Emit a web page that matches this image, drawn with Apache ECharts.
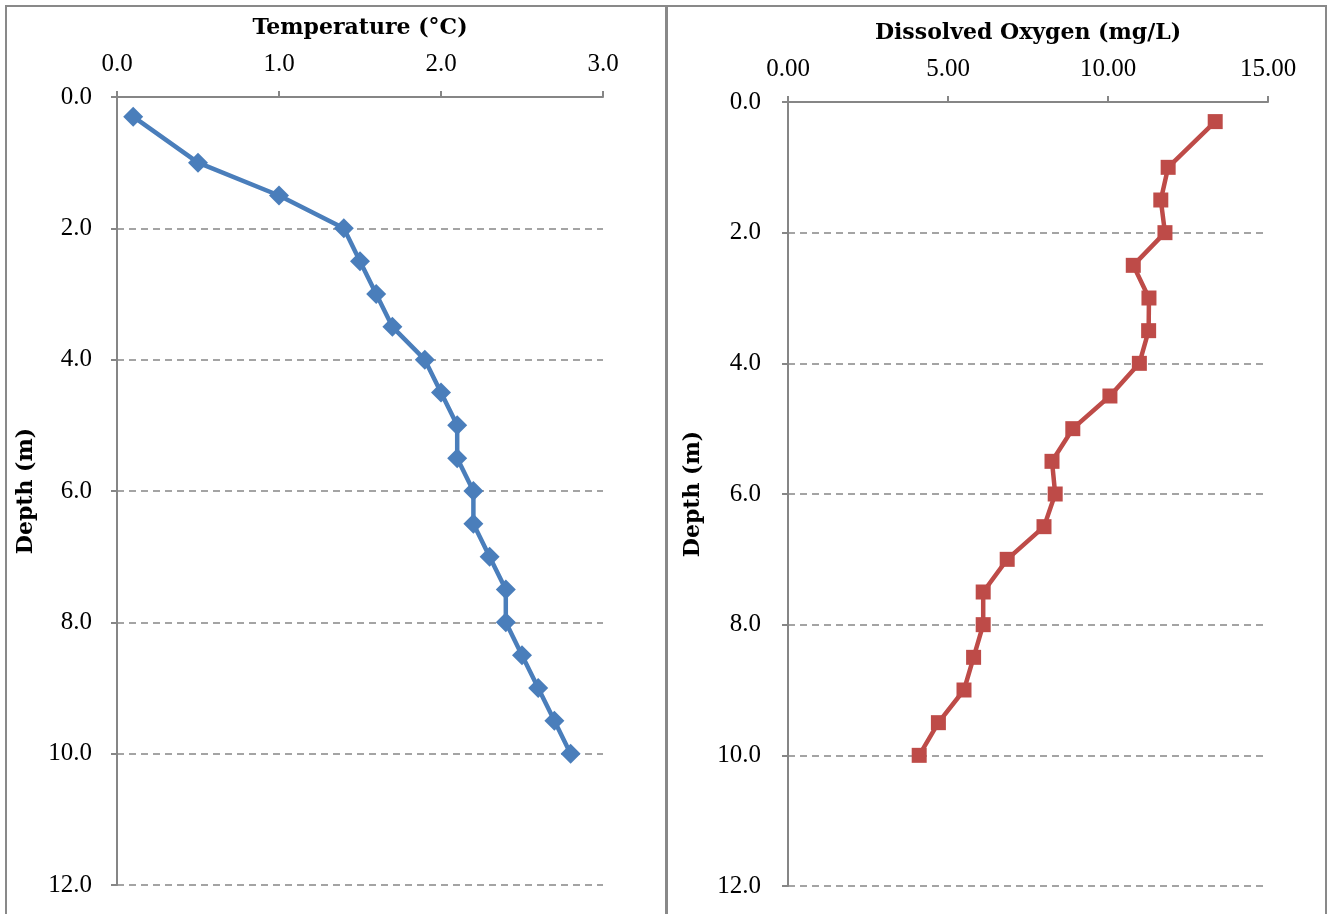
<!DOCTYPE html>
<html>
<head>
<meta charset="utf-8">
<script src="https://cdn.jsdelivr.net/npm/echarts@6/dist/echarts.min.js"></script>
<style>
html,body{margin:0;padding:0;background:#fff;}
#chart{width:1329px;height:914px;}
</style>
</head>
<body>
<div id="chart"></div>
<script>
const depths = [0.3,1.0,1.5,2.0,2.5,3.0,3.5,4.0,4.5,5.0,5.5,6.0,6.5,7.0,7.5,8.0,8.5,9.0,9.5,10.0];
const temperature = [0.1,0.5,1.0,1.4,1.5,1.6,1.7,1.9,2.0,2.1,2.1,2.2,2.2,2.3,2.4,2.4,2.5,2.6,2.7,2.8];
const oxygen = [13.35,11.88,11.65,11.78,10.79,11.28,11.27,10.98,10.06,8.9,8.25,8.35,8.0,6.85,6.1,6.1,5.8,5.5,4.7,4.1];
const tempTitle = 'Temperature (°C)';
const oxyTitle = 'Dissolved Oxygen (mg/L)';
const depthTitle = 'Depth (m)';

const tickFont = 'Liberation Serif';
const titleFont = 'DejaVu Serif';
const axisGray = '#868686';

function xAxisCfg(idx, name, max, interval, decimals){
  return {
    type:'value', gridIndex:idx, position:'top', min:0, max:max, interval:interval,
    name:name, nameLocation:'middle', nameGap:58,
    nameTextStyle:{fontFamily:titleFont, fontWeight:'bold', fontSize:22, color:'#000'},
    axisLine:{show:true, onZero:false, lineStyle:{color:axisGray, width:2}},
    axisTick:{show:true, inside:false, length:6, lineStyle:{color:axisGray, width:2}},
    axisLabel:{fontFamily:tickFont, fontSize:25, color:'#000', margin:20,
      formatter:v=>v.toFixed(decimals)},
    splitLine:{show:false}
  };
}
function yAxisCfg(idx, gap, margin){
  return {
    type:'value', gridIndex:idx, inverse:true, min:0, max:12, interval:2,
    name:depthTitle, nameLocation:'middle', nameGap:gap, nameRotate:90,
    nameTextStyle:{fontFamily:titleFont, fontWeight:'bold', fontSize:22, color:'#000'},
    axisLine:{show:true, onZero:false, lineStyle:{color:axisGray, width:2}},
    axisTick:{show:true, inside:false, length:6, lineStyle:{color:axisGray, width:2}},
    axisLabel:{fontFamily:tickFont, fontSize:25, color:'#000', margin:margin,
      formatter:v=>v.toFixed(1)},
    splitLine:{show:true, lineStyle:{color:axisGray, width:1.5, type:[7,5]}}
  };
}

const chart = echarts.init(document.getElementById('chart'), null, {renderer:'canvas'});
chart.setOption({
  animation:false,
  backgroundColor:'#fff',
  graphic:[
    {type:'rect', shape:{x:6, y:6, width:660, height:940}, style:{fill:'none', stroke:'#898989', lineWidth:2}, z:-1},
    {type:'rect', shape:{x:667, y:6, width:659, height:940}, style:{fill:'none', stroke:'#898989', lineWidth:2}, z:-1}
  ],
  grid:[
    {left:117, top:97, width:486, height:788},
    {left:788, top:102, width:480, height:784}
  ],
  xAxis:[ xAxisCfg(0, tempTitle, 3, 1, 1), xAxisCfg(1, oxyTitle, 15, 5, 2) ],
  yAxis:[ yAxisCfg(0, 80, 25), yAxisCfg(1, 84, 27) ],
  series:[
    {type:'line', xAxisIndex:0, yAxisIndex:0,
     data:depths.map((d,i)=>[temperature[i], d]),
     symbol:'diamond', symbolSize:20,
     lineStyle:{color:'#4A7EBB', width:4.5},
     itemStyle:{color:'#4A7EBB'}},
    {type:'line', xAxisIndex:1, yAxisIndex:1,
     data:depths.map((d,i)=>[oxygen[i], d]),
     symbol:'rect', symbolSize:15,
     lineStyle:{color:'#BE4B48', width:4.5},
     itemStyle:{color:'#BE4B48'}}
  ]
});
</script>
</body>
</html>
